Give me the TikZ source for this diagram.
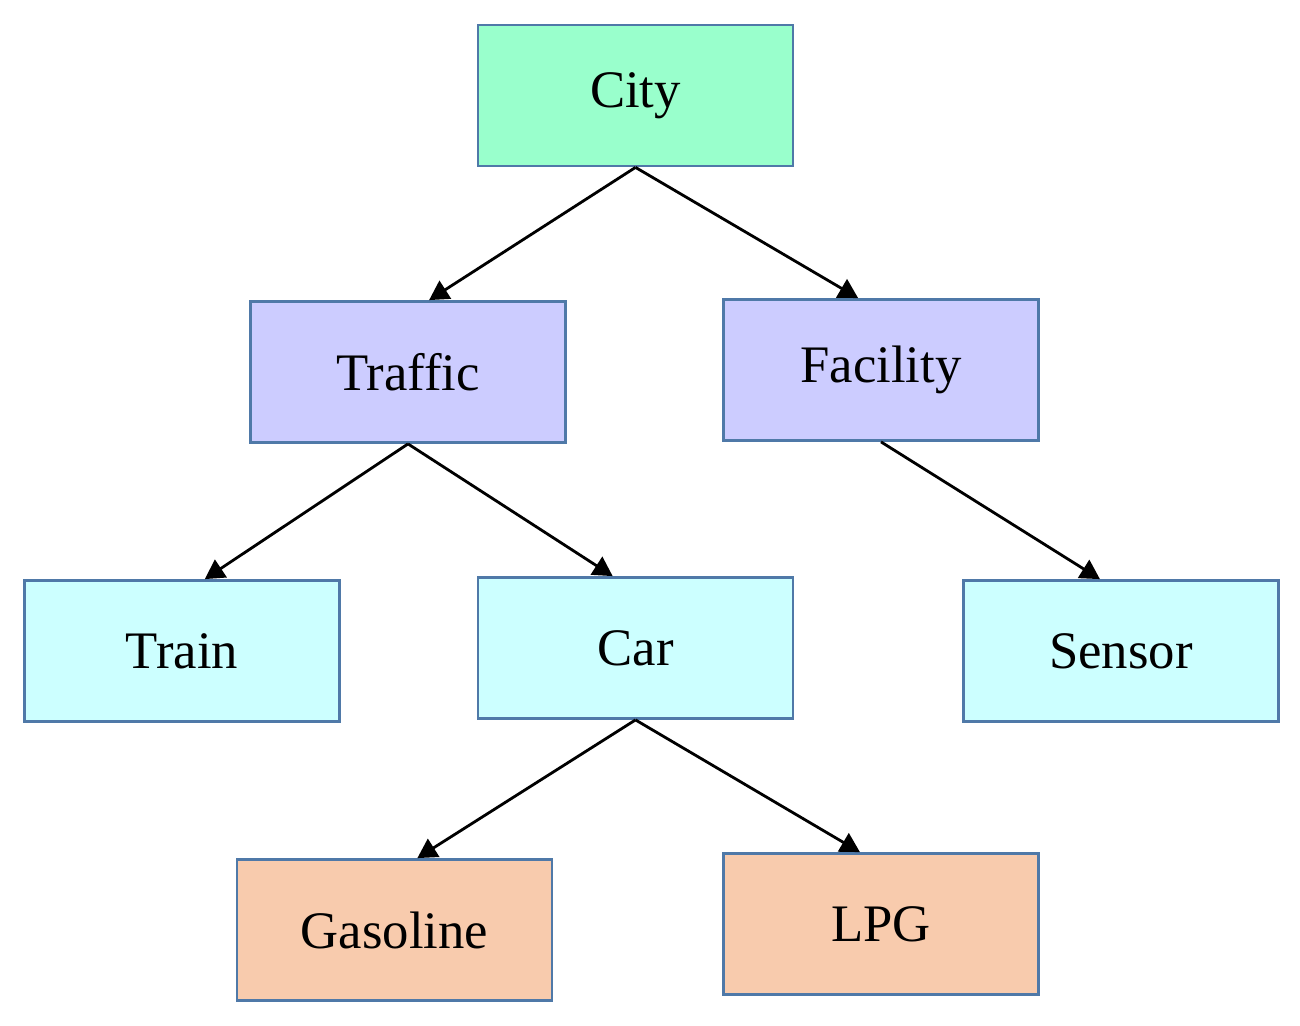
\documentclass[tikz,border=0pt]{standalone}
\usepackage{fontspec}
\setmainfont{Liberation Serif}
\usetikzlibrary{arrows.meta}
\definecolor{topc}{HTML}{99FFCC}
\definecolor{midc}{HTML}{CCCCFF}
\definecolor{lowc}{HTML}{CCFFFF}
\definecolor{fuelc}{HTML}{F8CBAD}
\definecolor{edgec}{HTML}{4F79A8}
\begin{document}
\begin{tikzpicture}[x=0.02cm,y=-0.02cm,
  box/.style={draw=edgec,line width=1.6pt,rectangle,minimum width=6.3cm,minimum height=2.82cm,font=\fontsize{30}{36}\selectfont},
  link/.style={-{Triangle[length=11pt,width=12pt]},line width=1.6pt}]
\useasboundingbox (0,0) rectangle (1300,1025);
\node[box,fill=topc] (city) at (635.5,95.5) {City};
\node[box,fill=midc] (traffic) at (408,372) {Traffic};
\node[box,fill=midc] (facility) at (881,370) {Facility};
\node[box,fill=lowc] (train) at (182,651) {Train};
\node[box,fill=lowc] (car) at (635.5,648) {Car};
\node[box,fill=lowc] (sensor) at (1121,651) {Sensor};
\node[box,fill=fuelc] (gasoline) at (394.5,930) {Gasoline};
\node[box,fill=fuelc] (lpg) at (881,924) {LPG};

\draw[link] (city.south) -- ([xshift=12]traffic.north);
\draw[link] (city.south) -- ([xshift=-13]facility.north);
\draw[link] (traffic.south) -- ([xshift=13]train.north);
\draw[link] (traffic.south) -- ([xshift=-13]car.north);
\draw[link] (facility.south) -- ([xshift=-12]sensor.north);
\draw[link] (car.south) -- ([xshift=13]gasoline.north);
\draw[link] (car.south) -- ([xshift=-12]lpg.north);
\end{tikzpicture}
\end{document}
